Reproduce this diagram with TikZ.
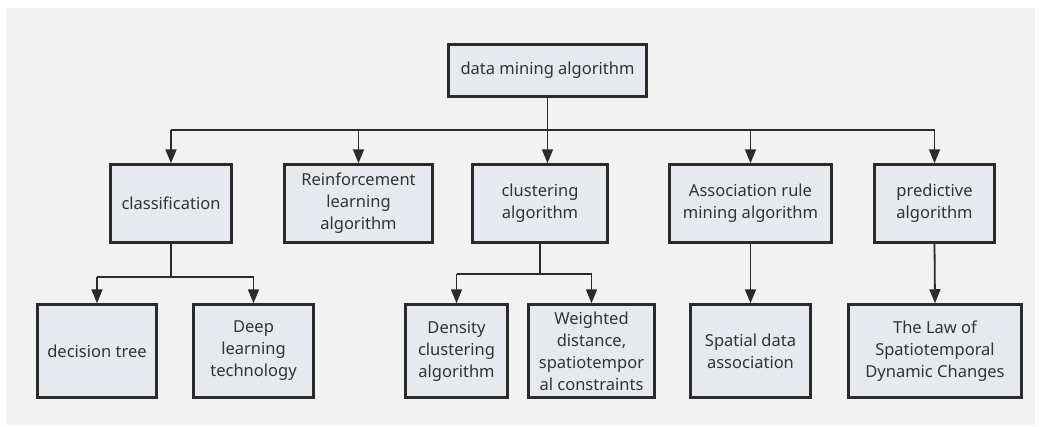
\documentclass[tikz,border=0pt]{standalone}
\usepackage{fontspec}
\setmainfont{Noto Sans}
\usetikzlibrary{arrows.meta}
\definecolor{bgcol}{HTML}{F2F2F2}
\definecolor{boxfill}{HTML}{E6EAEE}
\definecolor{linecol}{HTML}{2B2B2B}
\definecolor{textcol}{HTML}{333333}
\tikzset{
  box/.style={draw=linecol, fill=boxfill, line width=2.5pt, text=textcol,
    align=center, inner sep=0pt, font=\fontsize{16.5}{22}\selectfont},
  arr/.style={-{Triangle[length=14pt,width=11pt]}, line width=1.8pt, draw=linecol},
  link/.style={line width=1.8pt, draw=linecol}
}
\begin{document}
\begin{tikzpicture}[x=1pt,y=-1pt]
        \useasboundingbox (0,0) rectangle (1041,426);
        \fill[bgcol] (6,8) rectangle (1035,425);
        % top level
        \node[box, minimum width=198pt, minimum height=52pt] (root) at (547.5,70.5) {data mining algorithm};
        % second level
        \node[box, minimum width=121pt, minimum height=78pt] (classif) at (171,203.5) {classification};
        \node[box, minimum width=148pt, minimum height=78pt] (reinf) at (358.5,203.5) {Reinforcement\\learning\\algorithm};
        \node[box, minimum width=135pt, minimum height=78pt] (clust) at (540,203.5) {clustering\\algorithm};
        \node[box, minimum width=162pt, minimum height=78pt] (assoc) at (750.5,203.5) {Association rule\\mining algorithm};
        \node[box, minimum width=120pt, minimum height=78pt] (pred) at (934.5,203.5) {predictive\\algorithm};
        % third level
        \node[box, minimum width=119pt, minimum height=93pt] (dtree) at (97,351) {decision tree};
        \node[box, minimum width=120pt, minimum height=93pt] (deep) at (253.5,351) {Deep\\learning\\technology};
        \node[box, minimum width=102pt, minimum height=93pt] (dens) at (456.5,351) {Density\\clustering\\algorithm};
        \node[box, minimum width=126pt, minimum height=93pt] (weight) at (591.5,351) {Weighted\\distance,\\spatiotempor\\al constraints};
        \node[box, minimum width=120pt, minimum height=93pt] (spatial) at (750.5,351) {Spatial data\\association};
        \node[box, minimum width=173pt, minimum height=93pt] (law) at (935,351) {The Law of\\Spatiotemporal\\Dynamic Changes};
        % connectors from the root
        \draw[link] (root.south) -- ++(0,32) coordinate (bus);
        \draw[link] (bus -| classif.north) -- (bus -| pred.north);
        \foreach \n in {classif, reinf, assoc, pred}
            \draw[arr] (bus -| \n.north) -- (\n.north);
        \draw[arr] (bus) -- (bus |- clust.north);
        % classification branch
        \draw[link] (classif.south) -- ++(0,33) coordinate (cbus);
        \draw[link] (cbus -| dtree.north) -- (cbus -| deep.north);
        \foreach \n in {dtree, deep}
            \draw[arr] (cbus -| \n.north) -- (\n.north);
        % clustering branch
        \draw[link] (clust.south) -- ++(0,30) coordinate (kbus);
        \draw[link] (kbus -| dens.north) -- (kbus -| weight.north);
        \foreach \n in {dens, weight}
            \draw[arr] (kbus -| \n.north) -- (\n.north);
        % single children
        \draw[arr] (assoc.south) -- (spatial.north);
        \draw[arr] (pred.south) -- (law.north);
    \end{tikzpicture}
\end{document}
